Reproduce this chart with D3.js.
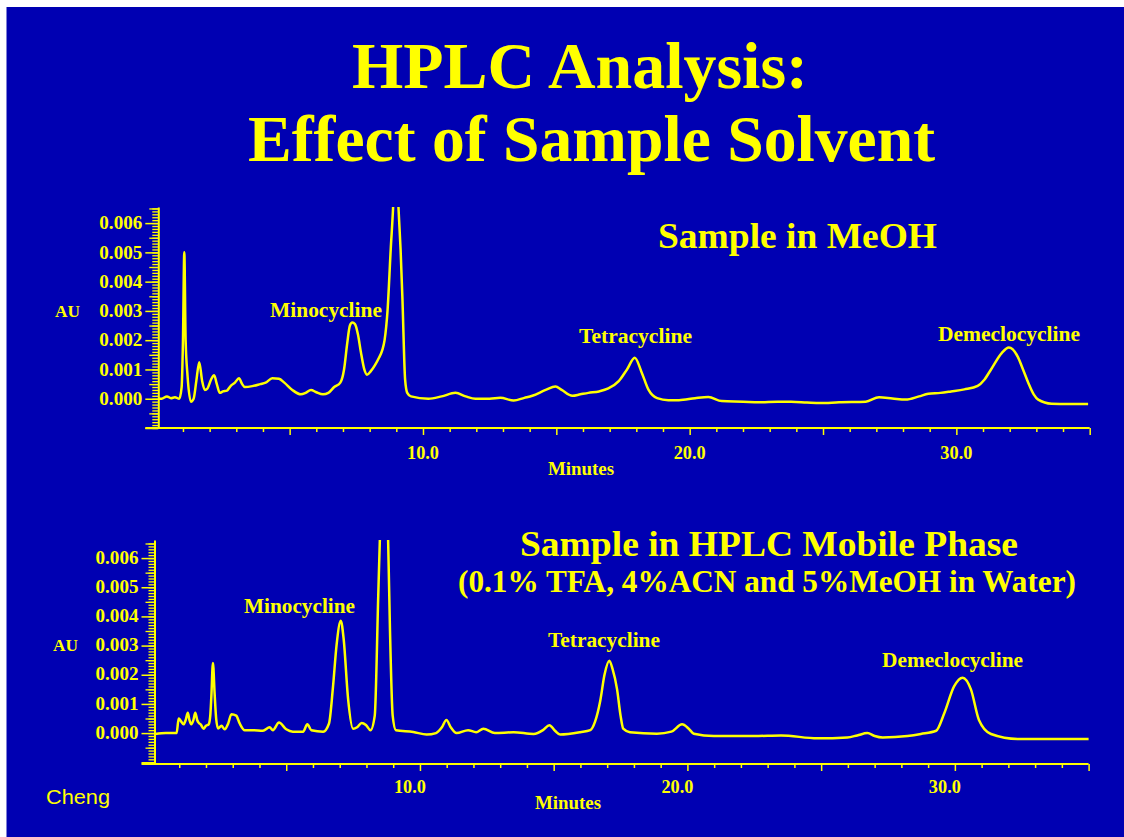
<!DOCTYPE html>
<html><head><meta charset="utf-8">
<script src="https://cdn.jsdelivr.net/npm/d3@7"></script>
<style>html,body{margin:0;padding:0;background:#fff;} svg{display:block;}</style>
</head><body>
<svg id="c" width="1124" height="837"></svg>
<script>
// ---------- DATA ----------
const titleLines = ["HPLC Analysis:", "Effect of Sample Solvent"];
const panelTitles = ["Sample in MeOH", "Sample in HPLC Mobile Phase"];
const panelSubtitle = "(0.1% TFA, 4%ACN and 5%MeOH in Water)";
const peakNames = ["Minocycline", "Tetracycline", "Demeclocycline"];
const yTickValues = [0, 0.001, 0.002, 0.003, 0.004, 0.005, 0.006];
const xTickLabels = [10, 20, 30];
const xLabel = "Minutes";
const yLabel = "AU";
const credit = "Cheng";

// Sample in MeOH: retention time (min) and absorbance (AU)
const meohTime = [0.0,0.2,0.4,0.55,0.7,0.86,0.95,1.0,1.05,1.1,1.17,1.3,1.4,1.5,1.61,1.72,1.82,1.92,2.05,2.17,2.27,2.38,2.5,2.65,2.8,2.95,3.1,3.22,3.32,3.6,3.9,4.1,4.35,4.6,4.8,5.1,5.42,5.6,5.8,6.0,6.25,6.45,6.67,6.9,7.04,7.16,7.26,7.35,7.45,7.56,7.67,7.8,7.9,8.05,8.2,8.35,8.47,8.56,8.67,8.79,8.88,8.98,9.08,9.16,9.23,9.33,9.41,9.55,10.2,10.7,11.22,11.6,11.97,12.5,12.9,13.4,13.8,14.1,14.6,14.97,15.2,15.6,15.9,16.2,16.6,16.95,17.34,17.65,17.94,18.2,18.46,18.78,19.2,19.6,20.2,20.7,21.2,22.0,22.6,23.3,23.8,24.4,24.9,25.6,26.6,27.1,27.6,28.1,28.6,28.95,29.4,29.8,30.3,30.8,31.05,31.3,31.7,31.97,32.3,32.5,32.7,32.9,33.07,33.57,34.2,34.94];
const meohAU = [0.00000,0.00000,0.00008,0.00002,0.00005,0.00000,0.00040,0.00200,0.00500,0.00200,0.00080,-0.00010,0.00000,0.00060,0.00125,0.00060,0.00030,0.00035,0.00065,0.00080,0.00050,0.00020,0.00025,0.00028,0.00045,0.00055,0.00070,0.00050,0.00040,0.00043,0.00050,0.00055,0.00070,0.00068,0.00055,0.00030,0.00015,0.00020,0.00030,0.00022,0.00015,0.00020,0.00040,0.00055,0.00100,0.00190,0.00250,0.00260,0.00255,0.00220,0.00160,0.00100,0.00082,0.00095,0.00115,0.00140,0.00165,0.00200,0.00300,0.00510,0.00655,0.00900,0.00655,0.00510,0.00340,0.00065,0.00020,0.00008,0.00000,0.00008,0.00020,0.00008,0.00000,0.00000,0.00003,-0.00006,0.00003,0.00010,0.00030,0.00042,0.00030,0.00010,0.00015,0.00020,0.00025,0.00035,0.00060,0.00100,0.00140,0.00090,0.00030,0.00002,-0.00005,-0.00005,0.00002,0.00006,-0.00008,-0.00010,-0.00012,-0.00010,-0.00010,-0.00013,-0.00015,-0.00012,-0.00010,0.00005,0.00001,-0.00003,0.00008,0.00017,0.00020,0.00025,0.00032,0.00044,0.00065,0.00100,0.00156,0.00175,0.00144,0.00100,0.00054,0.00015,-0.00003,-0.00017,-0.00018,-0.00018];

// Sample in HPLC mobile phase
const mobileTime = [0.1,0.5,0.9,0.98,1.07,1.16,1.24,1.32,1.38,1.45,1.53,1.6,1.67,1.73,1.8,1.91,2.0,2.1,2.16,2.2,2.26,2.32,2.38,2.45,2.58,2.7,2.83,2.95,3.13,3.26,3.45,3.76,4.13,4.38,4.5,4.73,5.0,5.25,5.63,5.79,5.94,6.38,6.6,6.75,6.88,7.04,7.15,7.31,7.5,7.65,7.82,7.98,8.15,8.31,8.44,8.5,8.65,8.81,8.88,8.98,9.1,9.75,10.25,10.6,10.82,10.99,11.15,11.37,11.8,12.1,12.37,12.8,13.5,14.25,14.6,14.84,15.05,15.24,15.99,16.37,16.55,16.74,16.9,17.08,17.2,17.37,17.5,17.6,17.85,18.86,19.4,19.8,20.05,20.24,20.99,22.5,23.5,24.86,25.98,26.35,26.73,27.0,27.3,28.23,28.73,29.3,29.6,29.97,30.29,30.6,30.9,31.35,32.35,35.0];
const mobileAU = [-0.00003,0.00000,0.00000,0.00050,0.00040,0.00030,0.00045,0.00070,0.00045,0.00030,0.00045,0.00070,0.00045,0.00035,0.00030,0.00015,0.00025,0.00030,0.00060,0.00125,0.00240,0.00140,0.00050,0.00016,0.00025,0.00013,0.00033,0.00065,0.00060,0.00033,0.00010,0.00010,0.00008,0.00020,0.00010,0.00036,0.00013,0.00005,0.00005,0.00030,0.00010,0.00005,0.00033,0.00160,0.00300,0.00385,0.00320,0.00120,0.00015,0.00020,0.00035,0.00028,0.00010,0.00060,0.00470,0.00660,0.00950,0.00660,0.00350,0.00060,0.00010,0.00004,-0.00005,0.00000,0.00020,0.00045,0.00020,0.00000,0.00010,0.00003,0.00015,0.00000,0.00003,-0.00003,0.00010,0.00027,0.00008,-0.00005,0.00003,0.00010,0.00040,0.00110,0.00200,0.00248,0.00220,0.00150,0.00060,0.00015,0.00003,-0.00002,0.00005,0.00030,0.00015,-0.00002,-0.00010,-0.00010,-0.00008,-0.00018,-0.00015,-0.00008,0.00000,-0.00010,-0.00015,-0.00010,-0.00003,0.00008,0.00067,0.00160,0.00190,0.00150,0.00045,-0.00003,-0.00020,-0.00020];

// ---------- DRAW ----------
const YEL = "#ffff00", BLUE = "#0000b2";
const SERIF = "'Liberation Serif','Times New Roman',serif";
const svg = d3.select("#c");
svg.append("rect").attr("x", 6.5).attr("y", 7).attr("width", 1118).attr("height", 830).attr("fill", BLUE);

function txt(s, x, y, size, width, opts = {}) {
  const t = svg.append("text").attr("x", x).attr("y", y).text(s)
    .attr("fill", YEL).attr("font-family", opts.family || SERIF)
    .attr("font-weight", opts.weight || "bold").attr("font-size", size);
  if (width) t.attr("textLength", width).attr("lengthAdjust", "spacingAndGlyphs");
  return t;
}

// Titles
txt(titleLines[0], 352, 88, 65, 456);
txt(titleLines[1], 248, 161, 65, 687);
txt(panelTitles[0], 658, 248, 35, 279);
txt(panelTitles[1], 520, 556, 35, 498);
txt(panelSubtitle, 458, 592, 31, 618);
txt(credit, 46, 804, 21, 64, {family: "'Liberation Sans',Arial,sans-serif", weight: "normal"});

function panel(cfg) {
  const x = d3.scaleLinear().domain([0, 35]).range(cfg.xr);
  const y = d3.scaleLinear().domain(cfg.yd).range(cfg.yr);
  const ax = x(0) + 2;
  const g = svg.append("g");
  const [yBot, yTop] = cfg.yr;

  // y minor ticks (0.0001) and mid ticks (0.0005)
  const minor = d3.range(-10, 66).map(i => i / 10000).filter(v => v >= cfg.yd[0] - 1e-9 && v <= cfg.yd[1]);
  const mid = d3.range(-2, 14).map(i => i / 2000).filter(v => v >= cfg.yd[0] - 1e-9 && v <= cfg.yd[1] && Math.abs(v * 1000 - Math.round(v * 1000)) > 1e-6);
  const mk = (vals, size) => {
    const a = g.append("g").attr("transform", `translate(${ax},0)`)
      .call(d3.axisLeft(y).tickValues(vals).tickSize(size).tickSizeOuter(0).tickFormat(""));
    a.select(".domain").remove();
    a.selectAll("line").attr("stroke", YEL).attr("stroke-width", 1.3);
  };
  mk(minor, 6);
  mk(mid, 9);
  const major = g.append("g").attr("transform", `translate(${ax},0)`)
    .call(d3.axisLeft(y).tickValues(yTickValues.concat([-0.001].filter(v => v >= cfg.yd[0]))).tickSize(13).tickSizeOuter(0).tickPadding(3)
      .tickFormat(v => v < 0 ? "" : d3.format(".3f")(v)));
  major.select(".domain").attr("stroke", YEL).attr("stroke-width", 2);
  major.selectAll("line").attr("stroke", YEL).attr("stroke-width", 1.5);
  major.selectAll("text").attr("fill", YEL).attr("font-family", SERIF).attr("font-weight", "bold")
    .attr("font-size", 18).attr("dy", cfg.tickDy)
    .filter(function () { return this.textContent; })
    .attr("textLength", 43).attr("lengthAdjust", "spacingAndGlyphs");

  // x axis
  g.append("line").attr("x1", ax - 13).attr("x2", x(35)).attr("y1", yBot).attr("y2", yBot)
    .attr("stroke", YEL).attr("stroke-width", 2);
  const xm = g.append("g").attr("transform", `translate(0,${yBot})`)
    .call(d3.axisBottom(x).tickValues(d3.range(1, 36).filter(v => v % 5)).tickSize(4).tickSizeOuter(0).tickFormat(""));
  xm.select(".domain").remove();
  xm.selectAll("line").attr("stroke", YEL).attr("stroke-width", 1.5);
  const xM = g.append("g").attr("transform", `translate(0,${yBot})`)
    .call(d3.axisBottom(x).tickValues(d3.range(5, 36, 5)).tickSize(7).tickSizeOuter(0).tickFormat(""));
  xM.select(".domain").remove();
  xM.selectAll("line").attr("stroke", YEL).attr("stroke-width", 1.5);

  xTickLabels.forEach(v => {
    g.append("text").attr("x", x(v) + cfg.labShift - 16).attr("y", yBot + cfg.labDy)
      .attr("fill", YEL).attr("font-family", SERIF).attr("font-weight", "bold").attr("font-size", 18)
      .attr("textLength", 32).attr("lengthAdjust", "spacingAndGlyphs")
      .text(d3.format(".1f")(v));
  });
  txt(xLabel, cfg.minutes[0], cfg.minutes[1], 18, 66);
  txt(yLabel, cfg.au[0], cfg.au[1], 16, 25);

  // trace
  const clipId = "clip" + cfg.id;
  svg.append("clipPath").attr("id", clipId).append("rect")
    .attr("x", ax).attr("y", yTop).attr("width", x(35) - ax + 5).attr("height", yBot - yTop);
  const idx = d3.range(cfg.t.length);
  const line = d3.line().x(i => x(cfg.t[i])).y(i => y(cfg.v[i])).curve(d3.curveMonotoneX);
  g.append("path").attr("d", line(idx)).attr("clip-path", `url(#${clipId})`)
    .attr("fill", "none").attr("stroke", YEL).attr("stroke-width", 2.5).attr("stroke-linejoin", "round");

  cfg.labels.forEach((p, i) => txt(peakNames[i], p[0], p[1], 20, p[2]));
}

panel({id: 1, xr: [156.3, 1089.7], yd: [-0.001, 0.00655], yr: [428, 207], t: meohTime, v: meohAU,
  labShift: 0, labDy: 31, tickDy: "0.32em", minutes: [548, 475], au: [55, 317],
  labels: [[270, 317, 112], [579, 343, 113], [938, 341, 142]]});
panel({id: 2, xr: [152.5, 1088.6], yd: [-0.00106, 0.00662], yr: [764, 540], t: mobileTime, v: mobileAU,
  labShift: -10, labDy: 29, tickDy: "0.29em", minutes: [535, 809], au: [53, 651],
  labels: [[244, 613, 111], [548, 647, 112], [882, 667, 141]]});
</script>
</body></html>
